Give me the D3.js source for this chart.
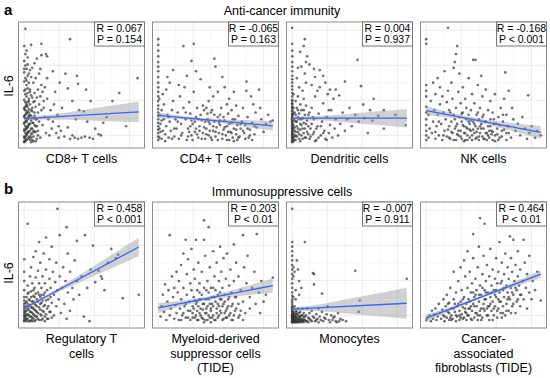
<!DOCTYPE html>
<html>
<head>
<meta charset="utf-8">
<script src="https://cdn.jsdelivr.net/npm/d3@7"></script>
<style>
body { margin: 0; background: #fff; }
svg { display: block; font-family: "Liberation Sans", Arial, sans-serif; }
</style>
</head>
<body>
<script>
// points, x and y in 0-100 units of each panel
var cd8Points = [[0,1],[1,3],[0,5],[2,6],[1,8],[3,9],[0,11],[2,12],[1,14],[4,15],[0,17],[2,18],[3,20],[1,21],[0,23],[2,25],[4,26],[1,28],[0,30],[3,31],[2,33],[1,35],[0,37],[4,38],[2,40],[1,42],[0,45],[3,47],[2,50],[0,53],[1,56],[3,58],[0,61],[2,64],[1,67],[0,71],[3,74],[1,77],[2,80],[0,84],[1,99],
  [5,2],[4,4],[6,7],[5,10],[3,13],[5,16],[6,19],[4,22],[5,24],[6,28],[5,33],[4,36],[6,41],[5,46],[4,52],[6,57],[5,63],
  [7,2],[8,5],[9,9],[7,12],[10,14],[8,17],[11,20],[9,23],[7,27],[12,26],[10,31],[8,35],[13,33],[11,39],[9,43],[14,40],[12,46],[8,52],[15,50],[10,56],[13,60],[16,44],[17,36],[15,28],[18,22],[16,15],[19,8],[14,4],[12,10],[17,30],[20,38],[18,48],[7,65],[9,69],[11,73],[15,76],[6,85],[19,77],[20,75],[15,86],[14,64],[20,56],
  [22,6],[24,12],[21,20],[23,28],[26,33],[25,18],[28,8],[30,14],[27,44],[29,24],[32,10],[33,30],[35,5],[38,13],[30,4],[40,3],[42,6],[44,4],[47,3],[50,4],[53,5],[57,4],[60,3],[65,7],[67,6],[69,17],[62,12],[55,18],[45,20],[48,28],[52,27],[42,36],[38,47],[36,60],[46,58],[47,51],[40,90],[54,46],[58,36],[31,52],[25,62],
  [77,36],[83,43],[89,14],[99,56],[72,22]];
var cd8Dense = [[0,0],[1,1],[2,2],[3,3],[0,4],[1,5],[2,7],[3,8],[4,9],[0,10],[1,11],[2,13],[3,14],[4,16],[0,16],[1,18],[2,19],[3,21],[4,23],[0,22],[1,24],[2,26],[3,27],[4,29],[0,29],[1,31],[2,32],[3,35],[5,5],[6,4],[7,8],[6,12],[7,17],[8,10],[9,15],[8,21],[6,23],[7,30],[9,26],[10,20],[10,9],[11,3],[6,0],[8,1],[10,1],[12,6],[11,14],[13,18],[9,36],[7,39],[5,44],[3,43],[1,46],[2,54],[4,60],[0,64],[3,68]];

var cd4Points = [[0,2],[0,5],[0,8],[0,11],[0,14],[0,17],[0,20],[0,23],[0,26],[0,29],[0,32],[0,36],[0,40],[0,44],[0,48],[0,52],[0,57],[0,62],[0,66],[0,70],[0,75],[0,80],[0,85],[0,90],[1,4],[1,12],[1,24],[1,38],
  [3,3],[4,10],[2,16],[5,20],[3,28],[6,7],[7,14],[5,33],[8,24],[9,4],[10,18],[4,42],[7,46],[11,10],[12,28],[13,36],[10,52],[14,5],[15,20],[13,63],[8,57],
  [16,12],[17,26],[18,3],[19,40],[20,16],[21,8],[22,30],[23,48],[24,20],[25,2],[26,12],[27,35],[28,25],[29,6],[30,16],[31,44],[32,9],[33,22],[34,30],[35,4],[36,14],[37,55],[38,19],[39,8],[40,28],[22,84],[31,86],[29,71],[25,58],[33,62],[18,50],
  [41,3],[42,12],[43,20],[44,6],[45,16],[46,26],[47,2],[48,10],[49,18],[50,5],[51,13],[52,22],[53,8],[54,15],[55,30],[56,3],[57,11],[58,19],[59,6],[60,14],[61,25],[62,2],[63,9],[64,17],[65,4],[66,12],[67,20],[68,7],[69,15],[70,23],[44,36],[48,40],[52,44],[49,73],[50,66],[56,57],[58,48],[62,38],[66,44],[60,33],[45,48],[42,30],[54,24],[64,28],[68,32],
  [71,5],[72,12],[73,18],[74,30],[75,8],[76,15],[77,53],[78,22],[79,4],[80,11],[81,40],[82,17],[84,7],[85,26],[86,13],[88,46],[90,20],[92,9],[94,16],[96,24],[98,18],[100,19],[83,33],[89,30],[77,45]];
var cd4Dense = [[26,5],[28,14],[30,2],[32,18],[34,7],[36,10],[38,3],[40,13],[42,7],[44,18],[46,4],[48,14],[50,9],[52,2],[54,19],[56,7],[58,13],[60,2],[62,16],[64,8],[66,1],[68,11],[70,4],[72,16],[74,10],[76,3],[78,12],[80,6],[82,2],[84,14],[33,12],[37,24],[41,18],[45,10],[49,24],[53,17],[57,22],[61,9],[65,20],[69,2],[47,28],[43,25],[39,32],[35,20],[29,19],[27,9],[24,26],[20,6],[17,18],[14,12],[12,3],[9,22],[6,1],[3,19],[2,9]];

var dcPoints = [[0,1],[0,3],[0,5],[0,7],[0,9],[0,11],[0,13],[0,15],[0,17],[0,19],[0,21],[0,23],[0,25],[0,28],[0,31],[0,34],[0,37],[0,40],[0,43],[0,46],[0,49],[0,52],[0,55],[0,58],[0,62],[0,66],[0,70],[0,75],[0,80],[0,86],[0,100],[1,4],[1,12],[1,20],[1,30],[1,42],
  [2,2],[3,6],[2,10],[4,14],[3,18],[5,22],[2,26],[4,30],[6,3],[5,9],[7,16],[6,25],[3,36],[5,40],[8,6],[9,12],[7,33],[8,20],[10,28],[9,45],[11,4],[12,16],[10,38],[13,9],[14,24],[12,52],[11,60],[6,48],[4,56],[8,66],[11,90],[10,84],[13,75],[12,70],[5,65],[7,79],
  [15,3],[16,12],[17,30],[18,7],[19,20],[20,40],[21,2],[22,14],[23,25],[24,48],[25,6],[26,18],[27,34],[28,10],[29,3],[30,22],[31,42],[32,8],[33,15],[34,28],[35,4],[36,38],[37,12],[38,20],[40,6],[42,16],[44,26],[46,10],[17,50],[20,57],[24,63],[29,52],[33,46],[27,58],[38,46],[46,53],[41,41],[19,64],[15,68],[22,45],
  [48,20],[50,30],[52,14],[55,24],[60,49],[57,72],[66,8],[71,38],[68,28],[62,33],[80,28],[75,23],[80,12],[99,15],[70,19],[58,18],[63,21],[90,24]];
var dcDense = [[0,0],[0,2],[0,4],[0,6],[0,8],[0,10],[0,12],[0,14],[0,16],[0,18],[0,20],[0,22],[0,24],[0,27],[0,30],[0,33],[0,36],[1,1],[1,7],[1,15],[1,25],[2,5],[2,13],[2,19],[3,2],[3,9],[3,24],[4,5],[4,18],[5,12],[5,28],[6,7],[6,20],[7,1],[7,11],[8,15],[8,28],[9,3],[9,21],[10,8],[10,17],[11,12],[11,24],[12,4],[12,32],[13,19],[14,7],[14,14],[15,26],[16,5],[17,16],[18,22],[19,9],[20,1],[21,12],[23,4],[25,14],[27,8],[30,2],[32,28]];

var nkPoints = [[0,2],[0,6],[0,10],[0,15],[0,20],[0,26],[0,31],[0,40],[0,45],[0,50],[0,86],[0,90],[2,4],[3,12],[2,24],[4,36],[5,8],[6,18],[6,52],[7,28],[8,3],[8,42],[9,14],[10,24],[10,56],[11,6],[12,33],[12,48],[13,16],[14,2],[14,40],[15,26],[16,10],[16,62],[17,20],[18,5],[18,35],[19,100],[19,45],[20,14],[20,28],[21,3],[22,18],[22,52],[23,8],[23,38],[24,24],[24,65],[25,12],[25,70],[26,2],[26,30],[26,77],[27,84],[27,16],[28,6],[28,44],[29,22],[29,60],[30,10],[30,34],[31,3],[31,18],[32,26],[32,48],[33,8],[33,14],[34,2],[34,38],[35,20],[35,30],[36,6],[36,12],[37,24],[37,56],[38,4],[38,16],[39,10],[39,28],[40,2],[40,42],[41,72],[41,18],[42,8],[42,34],[43,72],[43,14],[44,4],[44,24],[45,50],[45,12],[46,2],[46,20],[47,30],[47,8],[48,16],[48,58],[49,5],[49,40],[50,12],[50,24],[51,3],[52,18],[52,46],[53,8],[54,14],[54,28],[55,4],[56,20],[56,36],[57,10],[58,2],[58,26],[59,16],[60,6],[60,42],[62,12],[63,22],[64,4],[65,30],[66,10],[67,18],[68,38],[69,61],[70,8],[70,24],[72,45],[72,14],[74,4],[75,30],[76,20],[78,10],[80,16],[82,6],[84,22],[86,12],[88,3],[89,41],[90,8],[92,14],[95,4],[97,10],[100,6]];
var nkDense = [[20,4],[22,9],[24,2],[26,14],[28,10],[30,5],[32,15],[34,8],[36,2],[38,11],[40,6],[42,16],[44,9],[46,5],[48,12],[50,3],[52,8],[54,6],[56,14],[58,9],[60,1],[62,7],[64,15],[66,5],[68,11],[70,2],[72,8],[25,20],[31,25],[35,13],[39,19],[43,3],[47,14],[51,18],[55,10],[59,20],[63,2],[67,24],[71,14],[27,7],[33,1],[37,18],[41,11],[45,26],[49,22],[53,2],[57,7],[61,16],[21,26],[19,11],[15,6],[11,18],[8,9]];

var tregPoints = [[0,1],[0,4],[0,8],[0,12],[0,16],[0,22],[0,28],[0,36],[0,44],[0,55],[1,2],[1,6],[1,10],[2,14],[2,3],[2,18],[3,7],[3,25],[3,32],[3,86],[4,1],[4,11],[4,20],[5,5],[5,15],[5,40],[6,2],[6,9],[6,27],[6,48],[7,13],[7,4],[7,34],[8,18],[8,7],[8,23],[8,57],[9,1],[9,11],[9,30],[10,15],[10,5],[10,39],[10,62],[11,20],[11,9],[12,26],[12,3],[12,45],[13,13],[13,34],[13,70],[14,7],[14,22],[14,52],[15,17],[15,2],[15,30],[16,10],[16,40],[17,24],[17,60],[18,5],[18,15],[18,34],[19,46],[19,74],[20,12],[20,28],[21,3],[21,20],[22,38],[22,55],[23,9],[23,30],[24,17],[24,66],[25,44],[26,24],[26,6],[27,35],[28,14],[28,52],[29,99],[29,28],[30,20],[31,76],[31,40],[32,8],[33,30],[34,48],[35,16],[36,36],[37,83],[37,3],[38,26],[38,60],[40,44],[40,10],[42,30],[43,20],[44,54],[46,71],[46,36],[48,24],[50,40],[52,5],[53,76],[55,30],[57,1],[58,46],[60,67],[62,35],[65,45],[67,40],[68,38],[70,28],[73,52],[76,64],[80,56],[82,59],[86,21],[100,24]];
var tregDense = [[0,2],[0,6],[0,10],[0,14],[0,19],[1,4],[1,8],[1,13],[1,17],[2,1],[2,6],[2,10],[2,22],[3,3],[3,12],[3,16],[4,6],[4,14],[4,26],[5,1],[5,9],[5,19],[6,5],[6,13],[6,22],[7,1],[7,8],[7,18],[8,3],[8,12],[8,28],[9,6],[9,16],[9,22],[10,2],[10,10],[10,25],[11,5],[11,14],[12,8],[12,18],[13,2],[13,24],[14,11],[14,16],[15,6],[15,24],[16,3],[16,19],[17,9],[17,14],[18,1],[18,26],[19,7],[19,19],[20,3],[21,14],[22,9],[23,22],[24,4]];

var mdscPoints = [[2,5],[3,14],[4,24],[5,9],[6,33],[7,2],[8,18],[9,28],[10,76],[10,6],[11,12],[12,40],[13,22],[14,3],[14,30],[15,15],[16,8],[16,44],[17,26],[18,2],[18,36],[19,12],[20,20],[20,50],[21,6],[22,30],[22,60],[23,14],[24,72],[24,4],[25,24],[25,42],[26,10],[26,55],[27,18],[28,2],[28,34],[29,28],[29,64],[30,8],[30,14],[31,22],[31,46],[32,4],[32,38],[33,72],[33,16],[34,10],[34,28],[35,2],[35,52],[36,20],[36,34],[37,6],[37,12],[38,24],[38,44],[39,3],[39,16],[40,89],[40,72],[40,30],[41,8],[41,58],[42,20],[42,12],[43,2],[43,36],[44,83],[44,26],[44,6],[45,16],[45,48],[46,10],[46,30],[47,4],[47,22],[48,62],[48,14],[49,40],[49,2],[50,18],[50,28],[51,8],[51,52],[52,24],[52,4],[53,14],[53,36],[54,66],[54,10],[55,20],[55,44],[56,2],[56,30],[57,16],[57,56],[58,8],[58,24],[59,38],[59,4],[60,12],[60,60],[61,20],[62,32],[62,6],[63,46],[64,14],[64,26],[65,2],[66,36],[66,68],[67,10],[68,22],[68,52],[70,16],[70,40],[71,6],[72,28],[74,76],[74,18],[75,48],[76,8],[77,34],[78,58],[80,22],[80,12],[82,30],[84,44],[85,16],[86,77],[88,26],[89,8],[90,36],[92,18],[94,24],[100,39]];
var mdscDense = [[30,4],[31,12],[32,19],[33,6],[34,2],[35,14],[36,8],[37,20],[38,4],[39,11],[40,16],[41,2],[42,8],[43,14],[44,20],[45,4],[46,12],[47,16],[48,6],[49,22],[50,2],[51,12],[52,16],[53,6],[54,20],[55,8],[56,14],[57,3],[58,18],[59,10],[60,4],[61,14],[62,22],[63,8],[64,2],[65,16],[66,6],[67,22],[68,12],[70,4],[72,10],[74,2],[28,10],[26,4],[24,16],[22,8],[20,2],[36,26],[42,28],[48,30],[54,26],[46,0],[40,0],[34,18]];

var monoPoints = [[0,0],[0,1],[0,2],[0,3],[0,4],[0,5],[0,6],[0,7],[0,8],[0,9],[0,10],[0,11],[0,12],[0,13],[0,14],[0,16],[0,18],[0,20],[0,23],[0,26],[0,30],[0,34],[0,38],[0,42],[0,46],[0,50],[0,54],[0,58],[0,62],[0,66],[0,70],[0,99],[1,1],[1,3],[1,6],[1,9],[1,12],[1,22],[1,40],[1,48],[2,2],[2,5],[2,8],[2,14],[2,44],[3,1],[3,4],[3,10],[3,20],[3,28],[4,2],[4,7],[4,54],[5,3],[5,12],[5,46],[6,1],[6,5],[6,24],[6,36],[7,3],[7,9],[8,1],[8,6],[8,30],[9,2],[9,12],[10,4],[10,8],[11,70],[11,2],[12,6],[13,1],[13,12],[14,4],[15,8],[16,2],[17,10],[18,43],[18,5],[19,42],[19,33],[20,1],[21,7],[22,3],[23,12],[24,5],[25,2],[26,25],[26,9],[28,4],[30,7],[31,14],[32,2],[34,6],[36,4],[38,1],[40,8],[42,3],[44,2],[47,1],[55,45],[58,9],[59,19],[100,38]];
var monoDense = [[0,0],[0,1],[0,2],[0,3],[0,4],[0,5],[0,6],[1,0],[1,2],[1,4],[1,5],[1,7],[2,0],[2,1],[2,3],[2,6],[3,0],[3,2],[3,5],[3,7],[4,0],[4,1],[4,4],[4,9],[5,0],[5,2],[5,6],[6,0],[6,3],[6,8],[7,1],[7,5],[8,0],[8,3],[9,1],[9,6],[10,0],[10,2],[11,5],[12,1],[14,0],[15,3],[17,1],[19,4],[21,2],[23,0],[27,1],[29,3],[33,0],[35,2],[37,5],[39,0],[41,1]];

var cafPoints = [[0,2],[1,4],[3,6],[4,1],[5,10],[6,3],[7,7],[8,12],[9,2],[10,5],[11,16],[12,8],[13,3],[14,11],[15,20],[15,6],[16,1],[17,14],[18,4],[18,24],[19,9],[20,2],[20,17],[21,30],[22,6],[22,12],[23,3],[24,20],[24,44],[25,9],[26,1],[26,26],[27,14],[27,5],[28,36],[29,10],[29,2],[30,18],[30,48],[31,7],[31,28],[32,3],[32,13],[33,22],[33,54],[34,9],[34,40],[35,2],[35,16],[36,30],[36,62],[37,6],[37,20],[38,12],[38,44],[39,3],[39,26],[40,10],[40,34],[41,77],[41,16],[41,56],[42,4],[42,22],[43,8],[43,38],[44,14],[44,28],[45,2],[45,48],[46,18],[46,66],[47,91],[47,6],[47,32],[48,12],[48,24],[49,42],[49,4],[50,16],[50,58],[51,86],[51,10],[51,28],[52,20],[52,36],[53,6],[53,50],[54,14],[54,26],[55,40],[55,2],[56,22],[56,64],[57,10],[57,32],[58,18],[58,46],[59,6],[59,28],[60,38],[60,14],[61,56],[61,22],[62,4],[62,34],[63,12],[63,44],[64,26],[64,70],[65,18],[65,8],[66,36],[66,52],[67,14],[67,28],[68,42],[68,22],[69,6],[69,60],[70,32],[70,16],[71,48],[71,26],[72,10],[72,38],[73,75],[73,20],[74,30],[74,56],[75,14],[75,44],[76,72],[76,24],[77,36],[78,8],[78,50],[79,28],[79,18],[80,40],[80,62],[81,32],[82,14],[82,46],[83,24],[84,36],[85,72],[85,20],[86,52],[87,30],[88,12],[88,42],[90,26],[90,58],[92,20],[93,36],[95,28],[97,44],[100,19]];
var cafDense = [[16,5],[18,10],[20,8],[22,2],[24,12],[26,6],[28,16],[30,4],[32,20],[34,12],[36,6],[38,18],[40,2],[42,14],[44,8],[46,24],[48,2],[50,12],[52,26],[54,6],[56,16],[58,2],[60,24],[62,10],[64,18],[66,4],[68,30],[70,10],[72,22],[74,8],[76,16],[78,30],[80,20],[82,24],[35,8],[39,14],[43,24],[47,10],[51,20],[55,14],[59,12],[63,20],[67,8],[71,20],[75,26],[45,6],[53,12],[61,28],[57,26],[65,34],[49,30],[41,26],[37,12],[33,4],[29,6],[25,16],[21,4],[19,16]];

// fitted line: y at x = 0 and x = 100
var fitEnds = [[20.6, 26.6], [23.4, 14.3], [21, 21], [27.7, 8.6],
               [12.2, 65.7], [12.5, 32], [11.4, 16.6], [3.6, 42]];
// confidence band half width at these x values
var bandX = [0, 25, 50, 75, 100];
var bandHalf = [[1.7, 2.2, 4.4, 6.7, 9.1], [2.5, 1.4, 1.5, 2.8, 4.3],
                [1.7, 2.0, 3.9, 6.0, 8.1], [3.9, 2.0, 1.8, 3.5, 5.6],
                [1.8, 1.5, 3.5, 5.8, 8.1], [4.3, 2.1, 1.8, 3.8, 6.2],
                [1.4, 3.1, 6.5, 10.0, 13.5], [2.9, 1.6, 1.0, 2.0, 3.4]];

var rLabels = ["R = 0.067", "R = -0.065", "R = 0.004", "R = -0.168",
               "R = 0.458", "R = 0.203", "R = -0.007", "R = 0.464"];
var pLabels = ["P = 0.154", "P = 0.163", "P = 0.937", "P < 0.001",
               "P < 0.001", "P < 0.01", "P = 0.911", "P < 0.01"];
var xLabels = [["CD8+ T cells"], ["CD4+ T cells"], ["Dendritic cells"], ["NK cells"],
               ["Regulatory T", "cells"], ["Myeloid-derived", "suppressor cells", "(TIDE)"],
               ["Monocytes"], ["Cancer-", "associated", "fibroblasts (TIDE)"]];
var rowTitles = ["Anti-cancer immunity", "Immunosuppressive cells"];
var rowLetters = ["a", "b"];

var allPoints = [cd8Points.concat(cd8Dense), cd4Points.concat(cd4Dense),
                 dcPoints.concat(dcDense), nkPoints.concat(nkDense),
                 tregPoints.concat(tregDense), mdscPoints.concat(mdscDense),
                 monoPoints.concat(monoDense), cafPoints.concat(cafDense)];

var svgWidth = 550;
var svgHeight = 378;
var panelSize = 126;
var panelLefts = [18.5, 152.5, 286.5, 420.5];
var panelTops = [22, 202];
var gridBreaks = [0, 15.3, 30.6, 45.9, 61.2, 76.5, 91.8];
var gridBreaksY = [6, 21.3, 36.6, 51.9, 67.2, 82.5, 97.8];

var svg = d3.select('body').append('svg')
    .attr('width', svgWidth)
    .attr('height', svgHeight);

// row letters, titles, y labels
rowTitles.forEach(function(t, r) {
    svg.append('text')
        .attr('x', 4).attr('y', r == 0 ? 15 : 194)
        .attr('font-size', 15).attr('font-weight', 'bold')
        .text(rowLetters[r]);
    svg.append('text')
        .attr('x', 282).attr('y', r == 0 ? 15 : 195.5)
        .attr('text-anchor', 'middle')
        .attr('font-size', 12.5)
        .text(t);
    var cy = r == 0 ? 86 : 273;
    svg.append('text')
        .attr('transform', 'translate(13,' + cy + ') rotate(-90)')
        .attr('text-anchor', 'middle')
        .attr('font-size', 12.5)
        .text('IL-6');
});

allPoints.forEach(function(pts, i) {
    var row = Math.floor(i / 4);
    var col = i % 4;
    var left = panelLefts[col];
    var top = panelTops[row];

    var xScale = d3.scaleLinear().domain([-5, 105]).range([left, left + panelSize]);
    var yScale = d3.scaleLinear().domain([-5, 105]).range([top + panelSize, top]);

    var g = svg.append('g');

    // grid
    g.selectAll('line.gx').data(gridBreaks).enter().append('line')
        .attr('x1', function(d) { return xScale(d); })
        .attr('x2', function(d) { return xScale(d); })
        .attr('y1', top).attr('y2', top + panelSize)
        .attr('stroke', function(d, k) { return k % 2 ? '#f2f2f2' : '#e6e6e6'; })
        .attr('stroke-width', 0.8);
    g.selectAll('line.gy').data(gridBreaksY).enter().append('line')
        .attr('y1', function(d) { return yScale(d); })
        .attr('y2', function(d) { return yScale(d); })
        .attr('x1', left).attr('x2', left + panelSize)
        .attr('stroke', function(d, k) { return k % 2 ? '#f2f2f2' : '#e6e6e6'; })
        .attr('stroke-width', 0.8);

    // points
    g.selectAll('circle').data(pts).enter().append('circle')
        .attr('cx', function(d) { return xScale(d[0]); })
        .attr('cy', function(d) { return yScale(d[1]); })
        .attr('r', 1.35)
        .attr('fill', '#333')
        .attr('fill-opacity', 0.7);

    // band + line
    var fit = fitEnds[i];
    var lineY = function(x) { return fit[0] + (fit[1] - fit[0]) * x / 100; };
    var bandData = bandX.map(function(x, k) { return [x, lineY(x) - bandHalf[i][k], lineY(x) + bandHalf[i][k]]; });
    var area = d3.area()
        .x(function(d) { return xScale(d[0]); })
        .y0(function(d) { return yScale(d[1]); })
        .y1(function(d) { return yScale(d[2]); })
        .curve(d3.curveMonotoneX);
    g.append('path').datum(bandData)
        .attr('d', area)
        .attr('fill', '#999')
        .attr('fill-opacity', 0.45);
    g.append('line')
        .attr('x1', xScale(0)).attr('y1', yScale(fit[0]))
        .attr('x2', xScale(100)).attr('y2', yScale(fit[1]))
        .attr('stroke', '#3366ff')
        .attr('stroke-width', 1.3);

    // border
    g.append('rect')
        .attr('x', left).attr('y', top)
        .attr('width', panelSize).attr('height', panelSize)
        .attr('fill', 'none')
        .attr('stroke', '#8c8c8c')
        .attr('stroke-width', 1);

    // stat box
    var bw = 50, bh = 24;
    var bx = left + panelSize - bw;
    g.append('rect')
        .attr('x', bx).attr('y', top)
        .attr('width', bw).attr('height', bh)
        .attr('fill', '#fff')
        .attr('stroke', '#777')
        .attr('stroke-width', 1);
    g.append('text')
        .attr('x', bx + bw / 2).attr('y', top + 9.5)
        .attr('text-anchor', 'middle').attr('font-size', 10.5)
        .text(rLabels[i]);
    g.append('text')
        .attr('x', bx + bw / 2).attr('y', top + 21)
        .attr('text-anchor', 'middle').attr('font-size', 10.5)
        .text(pLabels[i]);

    // x label
    xLabels[i].forEach(function(s, k) {
        g.append('text')
            .attr('x', left + panelSize / 2)
            .attr('y', row == 0 ? 163 + k * 14.5 : 343 + k * 14.5)
            .attr('text-anchor', 'middle')
            .attr('font-size', 12.5)
            .text(s);
    });
});
</script>
</body>
</html>
